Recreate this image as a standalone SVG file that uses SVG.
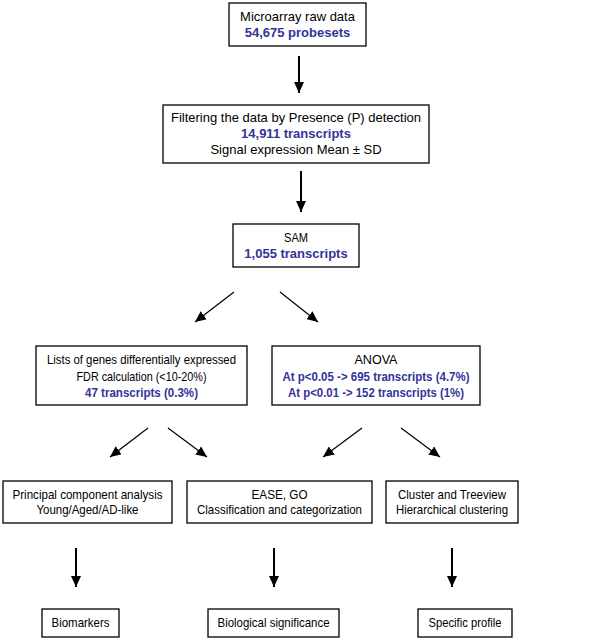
<svg xmlns="http://www.w3.org/2000/svg" width="598" height="642" viewBox="0 0 598 642">
<style>
.box{fill:#fff;stroke:#000;stroke-width:1.3}
text{font-family:"Liberation Sans",Arial,sans-serif;font-size:13px;fill:#000;text-anchor:middle}
.b{font-weight:bold;fill:#333399}
.v{stroke:#000;stroke-width:2;fill:none}
.d{stroke:#000;stroke-width:1.2;fill:none}
</style>
<defs>
<marker id="ah" markerUnits="userSpaceOnUse" markerWidth="12" markerHeight="10" refX="11" refY="5" orient="auto">
<path d="M0,0 L11,5 L0,10 Z" fill="#000"/>
</marker>
</defs>
<rect width="598" height="642" fill="#fff"/>
<g id="connectors">
<line class="v" x1="299" y1="56" x2="299" y2="93" marker-end="url(#ah)"/>
<line class="v" x1="301" y1="171" x2="301" y2="212" marker-end="url(#ah)"/>
<line class="d" x1="234" y1="292" x2="195" y2="322" marker-end="url(#ah)"/>
<line class="d" x1="280" y1="292" x2="318" y2="322" marker-end="url(#ah)"/>
<line class="d" x1="148" y1="428" x2="110" y2="457" marker-end="url(#ah)"/>
<line class="d" x1="168" y1="428" x2="207" y2="457" marker-end="url(#ah)"/>
<line class="d" x1="362" y1="428" x2="323" y2="457" marker-end="url(#ah)"/>
<line class="d" x1="401" y1="428" x2="440" y2="457" marker-end="url(#ah)"/>
<line class="v" x1="76" y1="548" x2="76" y2="587" marker-end="url(#ah)"/>
<line class="v" x1="274" y1="548" x2="274" y2="587" marker-end="url(#ah)"/>
<line class="v" x1="452" y1="548" x2="452" y2="587" marker-end="url(#ah)"/>
</g>
<g id="raw">
<rect class="box" x="229" y="3" width="137" height="43"/>
<text x="297.5" y="21">Microarray raw data</text>
<text class="b" x="297.5" y="37">54,675 probesets</text>
</g>
<g id="filter">
<rect class="box" x="163" y="105" width="266" height="58"/>
<text x="296" y="122">Filtering the data by Presence (P) detection</text>
<text class="b" x="296" y="138">14,911 transcripts</text>
<text x="296" y="154">Signal expression Mean ± SD</text>
</g>
<g id="sam">
<rect class="box" x="233" y="224" width="126" height="43"/>
<text x="296" y="242" textLength="24" lengthAdjust="spacingAndGlyphs">SAM</text>
<text class="b" x="296" y="258">1,055 transcripts</text>
</g>
<g id="lists">
<rect class="box" x="36" y="346" width="211" height="59"/>
<text x="141.5" y="364" textLength="189" lengthAdjust="spacingAndGlyphs">Lists of genes differentially expressed</text>
<text x="141.5" y="381" textLength="130" lengthAdjust="spacingAndGlyphs">FDR calculation (&lt;10-20%)</text>
<text class="b" x="141.5" y="397" textLength="113" lengthAdjust="spacingAndGlyphs">47 transcripts (0.3%)</text>
</g>
<g id="anova">
<rect class="box" x="272" y="346" width="208" height="59"/>
<text x="376" y="364" textLength="43" lengthAdjust="spacingAndGlyphs">ANOVA</text>
<text class="b" x="376" y="381" textLength="187" lengthAdjust="spacingAndGlyphs">At p&lt;0.05 -&gt; 695 transcripts (4.7%)</text>
<text class="b" x="376" y="397" textLength="176" lengthAdjust="spacingAndGlyphs">At p&lt;0.01 -&gt; 152 transcripts (1%)</text>
</g>
<g id="pca">
<rect class="box" x="3" y="481" width="169" height="42"/>
<text x="87.5" y="499" textLength="150" lengthAdjust="spacingAndGlyphs">Principal component analysis</text>
<text x="87.5" y="514" textLength="102" lengthAdjust="spacingAndGlyphs">Young/Aged/AD-like</text>
</g>
<g id="ease">
<rect class="box" x="187" y="481" width="185" height="42"/>
<text x="279.5" y="499" textLength="56" lengthAdjust="spacingAndGlyphs">EASE, GO</text>
<text x="279.5" y="514" textLength="165" lengthAdjust="spacingAndGlyphs">Classification and categorization</text>
</g>
<g id="cluster">
<rect class="box" x="386" y="481" width="132" height="42"/>
<text x="452" y="499" textLength="108" lengthAdjust="spacingAndGlyphs">Cluster and Treeview</text>
<text x="452" y="514" textLength="112" lengthAdjust="spacingAndGlyphs">Hierarchical clustering</text>
</g>
<g id="biomarkers">
<rect class="box" x="42" y="609" width="77" height="28"/>
<text x="80.5" y="627" textLength="58" lengthAdjust="spacingAndGlyphs">Biomarkers</text>
</g>
<g id="biosig">
<rect class="box" x="208" y="609" width="131" height="28"/>
<text x="273.5" y="627" textLength="112" lengthAdjust="spacingAndGlyphs">Biological significance</text>
</g>
<g id="specific">
<rect class="box" x="418" y="609" width="94" height="28"/>
<text x="465" y="627" textLength="73" lengthAdjust="spacingAndGlyphs">Specific profile</text>
</g>
</svg>
